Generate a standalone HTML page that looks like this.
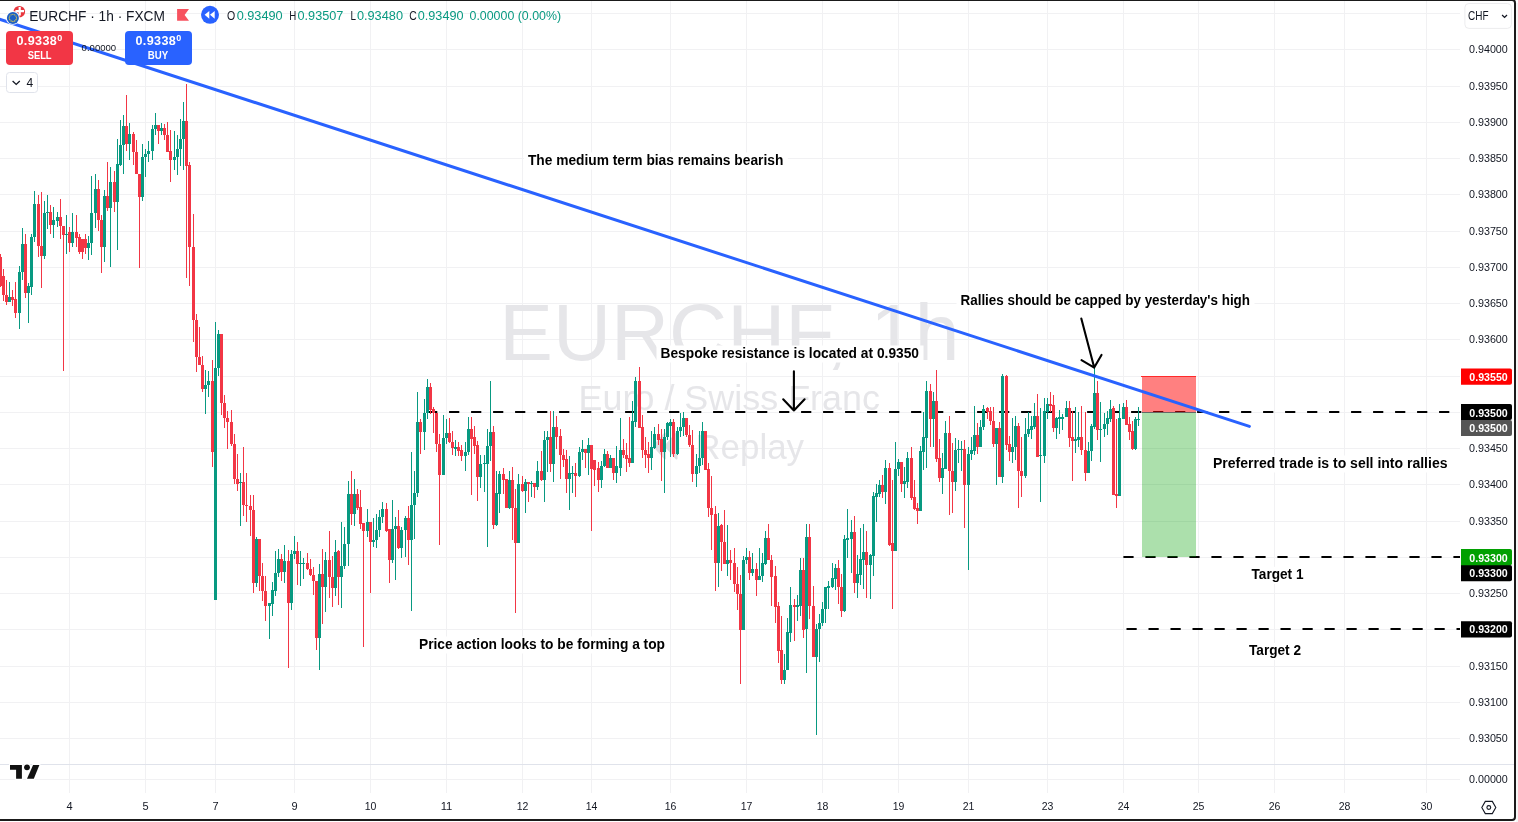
<!DOCTYPE html><html><head><meta charset="utf-8"><title>EURCHF 1h</title>
<style>html,body{margin:0;padding:0;background:#fff}body{width:1518px;height:822px;overflow:hidden;position:relative}svg{position:absolute;left:0;top:0;display:block;will-change:transform;opacity:0.999}text{font-family:"Liberation Sans", sans-serif}</style></head><body>
<svg width="1518" height="822" viewBox="0 0 1518 822">
<g shape-rendering="crispEdges" fill="#f1f1f3">
<rect x="0" y="13" width="1460" height="1"/>
<rect x="0" y="49" width="1460" height="1"/>
<rect x="0" y="86" width="1460" height="1"/>
<rect x="0" y="122" width="1460" height="1"/>
<rect x="0" y="158" width="1460" height="1"/>
<rect x="0" y="194" width="1460" height="1"/>
<rect x="0" y="231" width="1460" height="1"/>
<rect x="0" y="267" width="1460" height="1"/>
<rect x="0" y="303" width="1460" height="1"/>
<rect x="0" y="339" width="1460" height="1"/>
<rect x="0" y="376" width="1460" height="1"/>
<rect x="0" y="412" width="1460" height="1"/>
<rect x="0" y="448" width="1460" height="1"/>
<rect x="0" y="484" width="1460" height="1"/>
<rect x="0" y="521" width="1460" height="1"/>
<rect x="0" y="557" width="1460" height="1"/>
<rect x="0" y="593" width="1460" height="1"/>
<rect x="0" y="629" width="1460" height="1"/>
<rect x="0" y="666" width="1460" height="1"/>
<rect x="0" y="702" width="1460" height="1"/>
<rect x="0" y="738" width="1460" height="1"/>
<rect x="0" y="779" width="1460" height="1"/>
<rect x="69" y="1" width="1" height="792"/>
<rect x="145" y="1" width="1" height="792"/>
<rect x="215" y="1" width="1" height="792"/>
<rect x="294" y="1" width="1" height="792"/>
<rect x="370" y="1" width="1" height="792"/>
<rect x="446" y="1" width="1" height="792"/>
<rect x="522" y="1" width="1" height="792"/>
<rect x="591" y="1" width="1" height="792"/>
<rect x="670" y="1" width="1" height="792"/>
<rect x="746" y="1" width="1" height="792"/>
<rect x="822" y="1" width="1" height="792"/>
<rect x="898" y="1" width="1" height="792"/>
<rect x="968" y="1" width="1" height="792"/>
<rect x="1047" y="1" width="1" height="792"/>
<rect x="1123" y="1" width="1" height="792"/>
<rect x="1198" y="1" width="1" height="792"/>
<rect x="1274" y="1" width="1" height="792"/>
<rect x="1344" y="1" width="1" height="792"/>
<rect x="1426" y="1" width="1" height="792"/>
</g>
<g fill="#e6e6e9">
<text x="499.3" y="360" font-size="80" textLength="460.3" lengthAdjust="spacingAndGlyphs">EURCHF, 1h</text>
<text x="578.5" y="409.8" font-size="35.5" textLength="301.5" lengthAdjust="spacingAndGlyphs">Euro / Swiss Franc</text>
<text x="695.3" y="459.2" font-size="35.5" textLength="108.8" lengthAdjust="spacingAndGlyphs">Replay</text>
<path d="M665 433.5 L654 446 L665 458.5 Z M676.5 433.5 L665.5 446 L676.5 458.5 Z" fill="#dedee2" stroke="#dedee2" stroke-width="2" stroke-linejoin="round"/>
</g>
<line x1="428.7" y1="412.0" x2="1460.0" y2="412.0" stroke="#000" stroke-width="2" stroke-dasharray="10.2 11.8" stroke-dashoffset="1.6"/>
<line x1="1123.4" y1="557.0" x2="1460.0" y2="557.0" stroke="#000" stroke-width="2" stroke-dasharray="10.2 11.8" stroke-dashoffset="0.0"/>
<line x1="1126.5" y1="629.0" x2="1460.0" y2="629.0" stroke="#000" stroke-width="2" stroke-dasharray="10.2 11.8" stroke-dashoffset="0.0"/>
<rect x="1142" y="376" width="54" height="36" fill="rgb(255,0,0)" fill-opacity="0.5" shape-rendering="crispEdges"/>
<rect x="1142" y="413" width="54" height="144" fill="rgb(0,160,0)" fill-opacity="0.33" shape-rendering="crispEdges"/>
<rect x="1142" y="412" width="54" height="1" fill="#666" shape-rendering="crispEdges"/>
<rect x="1141" y="376" width="55" height="1" fill="#ff2a2a" shape-rendering="crispEdges"/>
<g shape-rendering="crispEdges">
<rect x="0" y="254" width="1" height="33" fill="#f23645"/>
<rect x="-1" y="257" width="3" height="29" fill="#f23645"/>
<rect x="3" y="269" width="1" height="32" fill="#f23645"/>
<rect x="2" y="276" width="3" height="19" fill="#f23645"/>
<rect x="6" y="280" width="1" height="25" fill="#f23645"/>
<rect x="5" y="295" width="3" height="7" fill="#f23645"/>
<rect x="9" y="282" width="1" height="20" fill="#089981"/>
<rect x="8" y="297" width="3" height="5" fill="#089981"/>
<rect x="12" y="290" width="1" height="16" fill="#f23645"/>
<rect x="11" y="297" width="3" height="3" fill="#f23645"/>
<rect x="15" y="282" width="1" height="36" fill="#f23645"/>
<rect x="14" y="299" width="3" height="14" fill="#f23645"/>
<rect x="19" y="266" width="1" height="63" fill="#089981"/>
<rect x="18" y="272" width="3" height="41" fill="#089981"/>
<rect x="22" y="228" width="1" height="52" fill="#089981"/>
<rect x="21" y="244" width="3" height="28" fill="#089981"/>
<rect x="25" y="234" width="1" height="64" fill="#f23645"/>
<rect x="24" y="244" width="3" height="49" fill="#f23645"/>
<rect x="28" y="283" width="1" height="40" fill="#089981"/>
<rect x="27" y="286" width="3" height="7" fill="#089981"/>
<rect x="31" y="234" width="1" height="61" fill="#089981"/>
<rect x="30" y="237" width="3" height="50" fill="#089981"/>
<rect x="34" y="191" width="1" height="51" fill="#089981"/>
<rect x="33" y="204" width="3" height="33" fill="#089981"/>
<rect x="38" y="195" width="1" height="62" fill="#f23645"/>
<rect x="37" y="204" width="3" height="42" fill="#f23645"/>
<rect x="41" y="192" width="1" height="96" fill="#f23645"/>
<rect x="40" y="246" width="3" height="10" fill="#f23645"/>
<rect x="44" y="201" width="1" height="58" fill="#089981"/>
<rect x="43" y="213" width="3" height="43" fill="#089981"/>
<rect x="47" y="195" width="1" height="34" fill="#089981"/>
<rect x="46" y="212" width="3" height="1" fill="#089981"/>
<rect x="50" y="205" width="1" height="29" fill="#f23645"/>
<rect x="49" y="212" width="3" height="13" fill="#f23645"/>
<rect x="53" y="207" width="1" height="31" fill="#089981"/>
<rect x="52" y="220" width="3" height="5" fill="#089981"/>
<rect x="57" y="212" width="1" height="15" fill="#089981"/>
<rect x="56" y="217" width="3" height="4" fill="#089981"/>
<rect x="60" y="199" width="1" height="40" fill="#f23645"/>
<rect x="59" y="217" width="3" height="9" fill="#f23645"/>
<rect x="63" y="226" width="1" height="145" fill="#f23645"/>
<rect x="62" y="226" width="3" height="9" fill="#f23645"/>
<rect x="66" y="215" width="1" height="39" fill="#089981"/>
<rect x="65" y="234" width="3" height="1" fill="#089981"/>
<rect x="69" y="227" width="1" height="25" fill="#f23645"/>
<rect x="68" y="232" width="3" height="11" fill="#f23645"/>
<rect x="72" y="213" width="1" height="34" fill="#089981"/>
<rect x="71" y="232" width="3" height="11" fill="#089981"/>
<rect x="76" y="215" width="1" height="32" fill="#f23645"/>
<rect x="75" y="232" width="3" height="6" fill="#f23645"/>
<rect x="79" y="234" width="1" height="20" fill="#f23645"/>
<rect x="78" y="237" width="3" height="15" fill="#f23645"/>
<rect x="82" y="239" width="1" height="20" fill="#f23645"/>
<rect x="81" y="239" width="3" height="13" fill="#f23645"/>
<rect x="85" y="234" width="1" height="20" fill="#f23645"/>
<rect x="84" y="239" width="3" height="9" fill="#f23645"/>
<rect x="88" y="236" width="1" height="24" fill="#089981"/>
<rect x="87" y="243" width="3" height="5" fill="#089981"/>
<rect x="91" y="176" width="1" height="79" fill="#089981"/>
<rect x="90" y="213" width="3" height="30" fill="#089981"/>
<rect x="95" y="174" width="1" height="54" fill="#089981"/>
<rect x="94" y="189" width="3" height="24" fill="#089981"/>
<rect x="98" y="180" width="1" height="51" fill="#f23645"/>
<rect x="97" y="189" width="3" height="31" fill="#f23645"/>
<rect x="101" y="215" width="1" height="58" fill="#f23645"/>
<rect x="100" y="220" width="3" height="27" fill="#f23645"/>
<rect x="104" y="190" width="1" height="72" fill="#089981"/>
<rect x="103" y="196" width="3" height="51" fill="#089981"/>
<rect x="107" y="162" width="1" height="49" fill="#f23645"/>
<rect x="106" y="196" width="3" height="12" fill="#f23645"/>
<rect x="110" y="167" width="1" height="100" fill="#089981"/>
<rect x="109" y="182" width="3" height="26" fill="#089981"/>
<rect x="114" y="171" width="1" height="41" fill="#f23645"/>
<rect x="113" y="182" width="3" height="20" fill="#f23645"/>
<rect x="117" y="139" width="1" height="111" fill="#089981"/>
<rect x="116" y="164" width="3" height="38" fill="#089981"/>
<rect x="120" y="120" width="1" height="46" fill="#089981"/>
<rect x="119" y="145" width="3" height="20" fill="#089981"/>
<rect x="123" y="115" width="1" height="59" fill="#089981"/>
<rect x="122" y="126" width="3" height="19" fill="#089981"/>
<rect x="126" y="95" width="1" height="56" fill="#f23645"/>
<rect x="125" y="126" width="3" height="18" fill="#f23645"/>
<rect x="129" y="123" width="1" height="37" fill="#089981"/>
<rect x="128" y="134" width="3" height="10" fill="#089981"/>
<rect x="133" y="132" width="1" height="33" fill="#f23645"/>
<rect x="132" y="134" width="3" height="18" fill="#f23645"/>
<rect x="136" y="140" width="1" height="34" fill="#f23645"/>
<rect x="135" y="152" width="3" height="22" fill="#f23645"/>
<rect x="139" y="174" width="1" height="94" fill="#f23645"/>
<rect x="138" y="174" width="3" height="23" fill="#f23645"/>
<rect x="142" y="144" width="1" height="57" fill="#089981"/>
<rect x="141" y="157" width="3" height="40" fill="#089981"/>
<rect x="145" y="149" width="1" height="28" fill="#089981"/>
<rect x="144" y="154" width="3" height="3" fill="#089981"/>
<rect x="148" y="141" width="1" height="21" fill="#089981"/>
<rect x="147" y="151" width="3" height="3" fill="#089981"/>
<rect x="152" y="125" width="1" height="35" fill="#089981"/>
<rect x="151" y="129" width="3" height="22" fill="#089981"/>
<rect x="155" y="113" width="1" height="22" fill="#089981"/>
<rect x="154" y="125" width="3" height="4" fill="#089981"/>
<rect x="158" y="125" width="1" height="19" fill="#f23645"/>
<rect x="157" y="125" width="3" height="6" fill="#f23645"/>
<rect x="161" y="123" width="1" height="12" fill="#089981"/>
<rect x="160" y="128" width="3" height="3" fill="#089981"/>
<rect x="164" y="124" width="1" height="16" fill="#f23645"/>
<rect x="163" y="128" width="3" height="7" fill="#f23645"/>
<rect x="167" y="122" width="1" height="30" fill="#f23645"/>
<rect x="166" y="135" width="3" height="17" fill="#f23645"/>
<rect x="170" y="130" width="1" height="52" fill="#f23645"/>
<rect x="169" y="151" width="3" height="9" fill="#f23645"/>
<rect x="174" y="131" width="1" height="39" fill="#089981"/>
<rect x="173" y="157" width="3" height="3" fill="#089981"/>
<rect x="177" y="135" width="1" height="40" fill="#089981"/>
<rect x="176" y="149" width="3" height="8" fill="#089981"/>
<rect x="180" y="119" width="1" height="47" fill="#089981"/>
<rect x="179" y="139" width="3" height="10" fill="#089981"/>
<rect x="183" y="102" width="1" height="68" fill="#089981"/>
<rect x="182" y="121" width="3" height="18" fill="#089981"/>
<rect x="186" y="84" width="1" height="194" fill="#f23645"/>
<rect x="185" y="121" width="3" height="45" fill="#f23645"/>
<rect x="189" y="162" width="1" height="124" fill="#f23645"/>
<rect x="188" y="165" width="3" height="82" fill="#f23645"/>
<rect x="193" y="214" width="1" height="128" fill="#f23645"/>
<rect x="192" y="247" width="3" height="73" fill="#f23645"/>
<rect x="196" y="314" width="1" height="58" fill="#f23645"/>
<rect x="195" y="320" width="3" height="37" fill="#f23645"/>
<rect x="199" y="327" width="1" height="38" fill="#f23645"/>
<rect x="198" y="357" width="3" height="8" fill="#f23645"/>
<rect x="202" y="356" width="1" height="36" fill="#f23645"/>
<rect x="201" y="365" width="3" height="24" fill="#f23645"/>
<rect x="205" y="370" width="1" height="44" fill="#089981"/>
<rect x="204" y="385" width="3" height="4" fill="#089981"/>
<rect x="208" y="371" width="1" height="26" fill="#089981"/>
<rect x="207" y="381" width="3" height="4" fill="#089981"/>
<rect x="212" y="360" width="1" height="107" fill="#f23645"/>
<rect x="211" y="381" width="3" height="71" fill="#f23645"/>
<rect x="215" y="322" width="1" height="278" fill="#089981"/>
<rect x="214" y="368" width="3" height="232" fill="#089981"/>
<rect x="218" y="330" width="1" height="46" fill="#089981"/>
<rect x="217" y="334" width="3" height="34" fill="#089981"/>
<rect x="221" y="334" width="1" height="81" fill="#f23645"/>
<rect x="220" y="334" width="3" height="69" fill="#f23645"/>
<rect x="224" y="395" width="1" height="33" fill="#f23645"/>
<rect x="223" y="403" width="3" height="15" fill="#f23645"/>
<rect x="227" y="411" width="1" height="38" fill="#f23645"/>
<rect x="226" y="418" width="3" height="4" fill="#f23645"/>
<rect x="231" y="410" width="1" height="36" fill="#f23645"/>
<rect x="230" y="422" width="3" height="22" fill="#f23645"/>
<rect x="234" y="434" width="1" height="50" fill="#f23645"/>
<rect x="233" y="444" width="3" height="35" fill="#f23645"/>
<rect x="237" y="454" width="1" height="37" fill="#f23645"/>
<rect x="236" y="479" width="3" height="5" fill="#f23645"/>
<rect x="240" y="473" width="1" height="53" fill="#089981"/>
<rect x="239" y="482" width="3" height="1" fill="#089981"/>
<rect x="243" y="447" width="1" height="69" fill="#f23645"/>
<rect x="242" y="482" width="3" height="23" fill="#f23645"/>
<rect x="246" y="473" width="1" height="49" fill="#f23645"/>
<rect x="245" y="505" width="3" height="1" fill="#f23645"/>
<rect x="250" y="495" width="1" height="41" fill="#f23645"/>
<rect x="249" y="506" width="3" height="4" fill="#f23645"/>
<rect x="253" y="495" width="1" height="98" fill="#f23645"/>
<rect x="252" y="510" width="3" height="73" fill="#f23645"/>
<rect x="256" y="537" width="1" height="50" fill="#089981"/>
<rect x="255" y="539" width="3" height="44" fill="#089981"/>
<rect x="259" y="539" width="1" height="52" fill="#f23645"/>
<rect x="258" y="539" width="3" height="37" fill="#f23645"/>
<rect x="262" y="563" width="1" height="38" fill="#f23645"/>
<rect x="261" y="576" width="3" height="15" fill="#f23645"/>
<rect x="265" y="576" width="1" height="45" fill="#f23645"/>
<rect x="264" y="591" width="3" height="15" fill="#f23645"/>
<rect x="269" y="603" width="1" height="36" fill="#089981"/>
<rect x="268" y="603" width="3" height="3" fill="#089981"/>
<rect x="272" y="582" width="1" height="34" fill="#089981"/>
<rect x="271" y="590" width="3" height="14" fill="#089981"/>
<rect x="275" y="551" width="1" height="45" fill="#089981"/>
<rect x="274" y="573" width="3" height="18" fill="#089981"/>
<rect x="278" y="549" width="1" height="28" fill="#089981"/>
<rect x="277" y="559" width="3" height="14" fill="#089981"/>
<rect x="281" y="554" width="1" height="27" fill="#f23645"/>
<rect x="280" y="559" width="3" height="13" fill="#f23645"/>
<rect x="284" y="545" width="1" height="38" fill="#089981"/>
<rect x="283" y="561" width="3" height="11" fill="#089981"/>
<rect x="288" y="550" width="1" height="118" fill="#f23645"/>
<rect x="287" y="561" width="3" height="42" fill="#f23645"/>
<rect x="291" y="550" width="1" height="60" fill="#089981"/>
<rect x="290" y="554" width="3" height="49" fill="#089981"/>
<rect x="294" y="536" width="1" height="23" fill="#089981"/>
<rect x="293" y="551" width="3" height="3" fill="#089981"/>
<rect x="297" y="542" width="1" height="43" fill="#f23645"/>
<rect x="296" y="551" width="3" height="13" fill="#f23645"/>
<rect x="300" y="551" width="1" height="35" fill="#089981"/>
<rect x="299" y="563" width="3" height="1" fill="#089981"/>
<rect x="303" y="558" width="1" height="21" fill="#089981"/>
<rect x="302" y="563" width="3" height="1" fill="#089981"/>
<rect x="307" y="553" width="1" height="17" fill="#f23645"/>
<rect x="306" y="563" width="3" height="6" fill="#f23645"/>
<rect x="310" y="559" width="1" height="17" fill="#f23645"/>
<rect x="309" y="569" width="3" height="6" fill="#f23645"/>
<rect x="313" y="567" width="1" height="28" fill="#f23645"/>
<rect x="312" y="575" width="3" height="6" fill="#f23645"/>
<rect x="316" y="581" width="1" height="69" fill="#f23645"/>
<rect x="315" y="581" width="3" height="57" fill="#f23645"/>
<rect x="319" y="564" width="1" height="106" fill="#089981"/>
<rect x="318" y="574" width="3" height="64" fill="#089981"/>
<rect x="322" y="549" width="1" height="75" fill="#f23645"/>
<rect x="321" y="574" width="3" height="13" fill="#f23645"/>
<rect x="325" y="552" width="1" height="60" fill="#089981"/>
<rect x="324" y="560" width="3" height="27" fill="#089981"/>
<rect x="329" y="531" width="1" height="67" fill="#f23645"/>
<rect x="328" y="560" width="3" height="17" fill="#f23645"/>
<rect x="332" y="556" width="1" height="51" fill="#f23645"/>
<rect x="331" y="577" width="3" height="11" fill="#f23645"/>
<rect x="335" y="540" width="1" height="56" fill="#089981"/>
<rect x="334" y="552" width="3" height="36" fill="#089981"/>
<rect x="338" y="550" width="1" height="55" fill="#f23645"/>
<rect x="337" y="551" width="3" height="26" fill="#f23645"/>
<rect x="341" y="522" width="1" height="86" fill="#089981"/>
<rect x="340" y="566" width="3" height="11" fill="#089981"/>
<rect x="344" y="527" width="1" height="42" fill="#089981"/>
<rect x="343" y="544" width="3" height="22" fill="#089981"/>
<rect x="348" y="481" width="1" height="85" fill="#089981"/>
<rect x="347" y="494" width="3" height="50" fill="#089981"/>
<rect x="351" y="471" width="1" height="54" fill="#f23645"/>
<rect x="350" y="494" width="3" height="20" fill="#f23645"/>
<rect x="354" y="479" width="1" height="47" fill="#089981"/>
<rect x="353" y="494" width="3" height="20" fill="#089981"/>
<rect x="357" y="489" width="1" height="21" fill="#f23645"/>
<rect x="356" y="494" width="3" height="14" fill="#f23645"/>
<rect x="360" y="490" width="1" height="39" fill="#f23645"/>
<rect x="359" y="507" width="3" height="17" fill="#f23645"/>
<rect x="363" y="523" width="1" height="124" fill="#f23645"/>
<rect x="362" y="523" width="3" height="8" fill="#f23645"/>
<rect x="367" y="509" width="1" height="28" fill="#089981"/>
<rect x="366" y="522" width="3" height="9" fill="#089981"/>
<rect x="370" y="522" width="1" height="71" fill="#f23645"/>
<rect x="369" y="522" width="3" height="20" fill="#f23645"/>
<rect x="373" y="518" width="1" height="29" fill="#089981"/>
<rect x="372" y="540" width="3" height="2" fill="#089981"/>
<rect x="376" y="514" width="1" height="34" fill="#089981"/>
<rect x="375" y="530" width="3" height="10" fill="#089981"/>
<rect x="379" y="510" width="1" height="27" fill="#089981"/>
<rect x="378" y="517" width="3" height="13" fill="#089981"/>
<rect x="382" y="502" width="1" height="21" fill="#089981"/>
<rect x="381" y="509" width="3" height="8" fill="#089981"/>
<rect x="386" y="503" width="1" height="29" fill="#f23645"/>
<rect x="385" y="509" width="3" height="22" fill="#f23645"/>
<rect x="389" y="529" width="1" height="54" fill="#f23645"/>
<rect x="388" y="529" width="3" height="31" fill="#f23645"/>
<rect x="392" y="500" width="1" height="63" fill="#089981"/>
<rect x="391" y="529" width="3" height="31" fill="#089981"/>
<rect x="395" y="517" width="1" height="63" fill="#089981"/>
<rect x="394" y="526" width="3" height="3" fill="#089981"/>
<rect x="398" y="510" width="1" height="39" fill="#f23645"/>
<rect x="397" y="526" width="3" height="22" fill="#f23645"/>
<rect x="401" y="527" width="1" height="31" fill="#089981"/>
<rect x="400" y="530" width="3" height="18" fill="#089981"/>
<rect x="405" y="516" width="1" height="41" fill="#089981"/>
<rect x="404" y="518" width="3" height="12" fill="#089981"/>
<rect x="408" y="506" width="1" height="59" fill="#f23645"/>
<rect x="407" y="518" width="3" height="22" fill="#f23645"/>
<rect x="411" y="452" width="1" height="159" fill="#089981"/>
<rect x="410" y="505" width="3" height="35" fill="#089981"/>
<rect x="414" y="471" width="1" height="68" fill="#089981"/>
<rect x="413" y="493" width="3" height="12" fill="#089981"/>
<rect x="417" y="392" width="1" height="105" fill="#089981"/>
<rect x="416" y="422" width="3" height="71" fill="#089981"/>
<rect x="420" y="419" width="1" height="35" fill="#f23645"/>
<rect x="419" y="422" width="3" height="10" fill="#f23645"/>
<rect x="424" y="399" width="1" height="51" fill="#089981"/>
<rect x="423" y="413" width="3" height="19" fill="#089981"/>
<rect x="427" y="379" width="1" height="40" fill="#089981"/>
<rect x="426" y="387" width="3" height="26" fill="#089981"/>
<rect x="430" y="383" width="1" height="31" fill="#f23645"/>
<rect x="429" y="387" width="3" height="23" fill="#f23645"/>
<rect x="433" y="407" width="1" height="26" fill="#f23645"/>
<rect x="432" y="409" width="3" height="4" fill="#f23645"/>
<rect x="436" y="413" width="1" height="39" fill="#f23645"/>
<rect x="435" y="413" width="3" height="31" fill="#f23645"/>
<rect x="439" y="434" width="1" height="111" fill="#f23645"/>
<rect x="438" y="444" width="3" height="31" fill="#f23645"/>
<rect x="443" y="415" width="1" height="60" fill="#089981"/>
<rect x="442" y="438" width="3" height="37" fill="#089981"/>
<rect x="446" y="419" width="1" height="25" fill="#089981"/>
<rect x="445" y="433" width="3" height="5" fill="#089981"/>
<rect x="449" y="418" width="1" height="25" fill="#f23645"/>
<rect x="448" y="433" width="3" height="9" fill="#f23645"/>
<rect x="452" y="431" width="1" height="24" fill="#f23645"/>
<rect x="451" y="442" width="3" height="6" fill="#f23645"/>
<rect x="455" y="440" width="1" height="16" fill="#089981"/>
<rect x="454" y="447" width="3" height="2" fill="#089981"/>
<rect x="458" y="442" width="1" height="14" fill="#f23645"/>
<rect x="457" y="447" width="3" height="4" fill="#f23645"/>
<rect x="461" y="445" width="1" height="16" fill="#f23645"/>
<rect x="460" y="450" width="3" height="6" fill="#f23645"/>
<rect x="465" y="442" width="1" height="29" fill="#089981"/>
<rect x="464" y="452" width="3" height="4" fill="#089981"/>
<rect x="468" y="417" width="1" height="38" fill="#089981"/>
<rect x="467" y="429" width="3" height="23" fill="#089981"/>
<rect x="471" y="417" width="1" height="78" fill="#f23645"/>
<rect x="470" y="429" width="3" height="10" fill="#f23645"/>
<rect x="474" y="426" width="1" height="28" fill="#f23645"/>
<rect x="473" y="437" width="3" height="9" fill="#f23645"/>
<rect x="477" y="441" width="1" height="60" fill="#f23645"/>
<rect x="476" y="445" width="3" height="32" fill="#f23645"/>
<rect x="480" y="455" width="1" height="33" fill="#089981"/>
<rect x="479" y="464" width="3" height="13" fill="#089981"/>
<rect x="484" y="455" width="1" height="37" fill="#089981"/>
<rect x="483" y="463" width="3" height="1" fill="#089981"/>
<rect x="487" y="429" width="1" height="118" fill="#089981"/>
<rect x="486" y="446" width="3" height="18" fill="#089981"/>
<rect x="490" y="381" width="1" height="80" fill="#089981"/>
<rect x="489" y="432" width="3" height="14" fill="#089981"/>
<rect x="493" y="426" width="1" height="103" fill="#f23645"/>
<rect x="492" y="432" width="3" height="93" fill="#f23645"/>
<rect x="496" y="471" width="1" height="55" fill="#089981"/>
<rect x="495" y="493" width="3" height="32" fill="#089981"/>
<rect x="499" y="471" width="1" height="42" fill="#089981"/>
<rect x="498" y="474" width="3" height="20" fill="#089981"/>
<rect x="503" y="468" width="1" height="26" fill="#f23645"/>
<rect x="502" y="474" width="3" height="6" fill="#f23645"/>
<rect x="506" y="479" width="1" height="29" fill="#f23645"/>
<rect x="505" y="479" width="3" height="29" fill="#f23645"/>
<rect x="509" y="471" width="1" height="38" fill="#089981"/>
<rect x="508" y="480" width="3" height="28" fill="#089981"/>
<rect x="512" y="467" width="1" height="73" fill="#f23645"/>
<rect x="511" y="480" width="3" height="28" fill="#f23645"/>
<rect x="515" y="489" width="1" height="124" fill="#f23645"/>
<rect x="514" y="508" width="3" height="35" fill="#f23645"/>
<rect x="518" y="474" width="1" height="69" fill="#089981"/>
<rect x="517" y="484" width="3" height="59" fill="#089981"/>
<rect x="522" y="476" width="1" height="16" fill="#f23645"/>
<rect x="521" y="484" width="3" height="7" fill="#f23645"/>
<rect x="525" y="479" width="1" height="34" fill="#089981"/>
<rect x="524" y="482" width="3" height="9" fill="#089981"/>
<rect x="528" y="482" width="1" height="20" fill="#f23645"/>
<rect x="527" y="482" width="3" height="2" fill="#f23645"/>
<rect x="531" y="481" width="1" height="16" fill="#089981"/>
<rect x="530" y="483" width="3" height="1" fill="#089981"/>
<rect x="534" y="483" width="1" height="15" fill="#f23645"/>
<rect x="533" y="483" width="3" height="4" fill="#f23645"/>
<rect x="537" y="461" width="1" height="29" fill="#089981"/>
<rect x="536" y="471" width="3" height="16" fill="#089981"/>
<rect x="541" y="451" width="1" height="30" fill="#f23645"/>
<rect x="540" y="471" width="3" height="9" fill="#f23645"/>
<rect x="544" y="431" width="1" height="71" fill="#089981"/>
<rect x="543" y="440" width="3" height="40" fill="#089981"/>
<rect x="547" y="431" width="1" height="41" fill="#089981"/>
<rect x="546" y="437" width="3" height="3" fill="#089981"/>
<rect x="550" y="411" width="1" height="61" fill="#f23645"/>
<rect x="549" y="437" width="3" height="27" fill="#f23645"/>
<rect x="553" y="411" width="1" height="71" fill="#089981"/>
<rect x="552" y="427" width="3" height="37" fill="#089981"/>
<rect x="556" y="416" width="1" height="33" fill="#f23645"/>
<rect x="555" y="427" width="3" height="10" fill="#f23645"/>
<rect x="560" y="429" width="1" height="50" fill="#f23645"/>
<rect x="559" y="436" width="3" height="19" fill="#f23645"/>
<rect x="563" y="449" width="1" height="18" fill="#f23645"/>
<rect x="562" y="455" width="3" height="5" fill="#f23645"/>
<rect x="566" y="450" width="1" height="43" fill="#f23645"/>
<rect x="565" y="459" width="3" height="20" fill="#f23645"/>
<rect x="569" y="456" width="1" height="54" fill="#089981"/>
<rect x="568" y="473" width="3" height="6" fill="#089981"/>
<rect x="572" y="466" width="1" height="27" fill="#089981"/>
<rect x="571" y="473" width="3" height="1" fill="#089981"/>
<rect x="575" y="463" width="1" height="34" fill="#f23645"/>
<rect x="574" y="473" width="3" height="3" fill="#f23645"/>
<rect x="579" y="447" width="1" height="30" fill="#089981"/>
<rect x="578" y="452" width="3" height="24" fill="#089981"/>
<rect x="582" y="440" width="1" height="20" fill="#089981"/>
<rect x="581" y="449" width="3" height="3" fill="#089981"/>
<rect x="585" y="449" width="1" height="19" fill="#f23645"/>
<rect x="584" y="449" width="3" height="4" fill="#f23645"/>
<rect x="588" y="438" width="1" height="37" fill="#089981"/>
<rect x="587" y="445" width="3" height="8" fill="#089981"/>
<rect x="591" y="445" width="1" height="86" fill="#f23645"/>
<rect x="590" y="445" width="3" height="24" fill="#f23645"/>
<rect x="594" y="460" width="1" height="26" fill="#f23645"/>
<rect x="593" y="460" width="3" height="10" fill="#f23645"/>
<rect x="598" y="462" width="1" height="30" fill="#f23645"/>
<rect x="597" y="468" width="3" height="12" fill="#f23645"/>
<rect x="601" y="461" width="1" height="27" fill="#089981"/>
<rect x="600" y="466" width="3" height="14" fill="#089981"/>
<rect x="604" y="449" width="1" height="18" fill="#089981"/>
<rect x="603" y="454" width="3" height="12" fill="#089981"/>
<rect x="607" y="451" width="1" height="17" fill="#f23645"/>
<rect x="606" y="454" width="3" height="14" fill="#f23645"/>
<rect x="610" y="455" width="1" height="13" fill="#089981"/>
<rect x="609" y="458" width="3" height="10" fill="#089981"/>
<rect x="613" y="458" width="1" height="22" fill="#f23645"/>
<rect x="612" y="458" width="3" height="15" fill="#f23645"/>
<rect x="616" y="446" width="1" height="37" fill="#089981"/>
<rect x="615" y="466" width="3" height="7" fill="#089981"/>
<rect x="620" y="418" width="1" height="58" fill="#089981"/>
<rect x="619" y="450" width="3" height="18" fill="#089981"/>
<rect x="623" y="439" width="1" height="19" fill="#f23645"/>
<rect x="622" y="450" width="3" height="5" fill="#f23645"/>
<rect x="626" y="443" width="1" height="29" fill="#f23645"/>
<rect x="625" y="455" width="3" height="4" fill="#f23645"/>
<rect x="629" y="417" width="1" height="50" fill="#f23645"/>
<rect x="628" y="458" width="3" height="5" fill="#f23645"/>
<rect x="632" y="401" width="1" height="62" fill="#089981"/>
<rect x="631" y="421" width="3" height="42" fill="#089981"/>
<rect x="635" y="377" width="1" height="50" fill="#089981"/>
<rect x="634" y="381" width="3" height="41" fill="#089981"/>
<rect x="639" y="367" width="1" height="61" fill="#f23645"/>
<rect x="638" y="381" width="3" height="47" fill="#f23645"/>
<rect x="642" y="415" width="1" height="43" fill="#f23645"/>
<rect x="641" y="427" width="3" height="23" fill="#f23645"/>
<rect x="645" y="437" width="1" height="31" fill="#f23645"/>
<rect x="644" y="450" width="3" height="5" fill="#f23645"/>
<rect x="648" y="442" width="1" height="31" fill="#f23645"/>
<rect x="647" y="454" width="3" height="4" fill="#f23645"/>
<rect x="651" y="431" width="1" height="39" fill="#089981"/>
<rect x="650" y="447" width="3" height="11" fill="#089981"/>
<rect x="654" y="427" width="1" height="22" fill="#089981"/>
<rect x="653" y="434" width="3" height="14" fill="#089981"/>
<rect x="658" y="424" width="1" height="21" fill="#f23645"/>
<rect x="657" y="434" width="3" height="6" fill="#f23645"/>
<rect x="661" y="429" width="1" height="52" fill="#f23645"/>
<rect x="660" y="439" width="3" height="13" fill="#f23645"/>
<rect x="664" y="429" width="1" height="64" fill="#089981"/>
<rect x="663" y="437" width="3" height="15" fill="#089981"/>
<rect x="667" y="422" width="1" height="18" fill="#089981"/>
<rect x="666" y="423" width="3" height="14" fill="#089981"/>
<rect x="670" y="419" width="1" height="38" fill="#089981"/>
<rect x="669" y="422" width="3" height="4" fill="#089981"/>
<rect x="673" y="419" width="1" height="38" fill="#f23645"/>
<rect x="672" y="422" width="3" height="32" fill="#f23645"/>
<rect x="677" y="427" width="1" height="28" fill="#089981"/>
<rect x="676" y="431" width="3" height="23" fill="#089981"/>
<rect x="680" y="413" width="1" height="24" fill="#089981"/>
<rect x="679" y="427" width="3" height="4" fill="#089981"/>
<rect x="683" y="412" width="1" height="24" fill="#089981"/>
<rect x="682" y="418" width="3" height="9" fill="#089981"/>
<rect x="686" y="418" width="1" height="19" fill="#f23645"/>
<rect x="685" y="418" width="3" height="17" fill="#f23645"/>
<rect x="689" y="425" width="1" height="22" fill="#f23645"/>
<rect x="688" y="435" width="3" height="10" fill="#f23645"/>
<rect x="692" y="430" width="1" height="52" fill="#f23645"/>
<rect x="691" y="445" width="3" height="29" fill="#f23645"/>
<rect x="696" y="454" width="1" height="33" fill="#089981"/>
<rect x="695" y="466" width="3" height="8" fill="#089981"/>
<rect x="699" y="431" width="1" height="42" fill="#089981"/>
<rect x="698" y="458" width="3" height="8" fill="#089981"/>
<rect x="702" y="422" width="1" height="43" fill="#089981"/>
<rect x="701" y="431" width="3" height="27" fill="#089981"/>
<rect x="705" y="431" width="1" height="39" fill="#f23645"/>
<rect x="704" y="431" width="3" height="39" fill="#f23645"/>
<rect x="708" y="463" width="1" height="54" fill="#f23645"/>
<rect x="707" y="469" width="3" height="39" fill="#f23645"/>
<rect x="711" y="476" width="1" height="74" fill="#f23645"/>
<rect x="710" y="508" width="3" height="7" fill="#f23645"/>
<rect x="715" y="506" width="1" height="85" fill="#f23645"/>
<rect x="714" y="514" width="3" height="49" fill="#f23645"/>
<rect x="718" y="513" width="1" height="74" fill="#089981"/>
<rect x="717" y="526" width="3" height="37" fill="#089981"/>
<rect x="721" y="524" width="1" height="47" fill="#f23645"/>
<rect x="720" y="525" width="3" height="17" fill="#f23645"/>
<rect x="724" y="510" width="1" height="54" fill="#f23645"/>
<rect x="723" y="542" width="3" height="22" fill="#f23645"/>
<rect x="727" y="525" width="1" height="51" fill="#089981"/>
<rect x="726" y="560" width="3" height="4" fill="#089981"/>
<rect x="730" y="550" width="1" height="30" fill="#f23645"/>
<rect x="729" y="560" width="3" height="3" fill="#f23645"/>
<rect x="734" y="548" width="1" height="44" fill="#f23645"/>
<rect x="733" y="563" width="3" height="21" fill="#f23645"/>
<rect x="737" y="567" width="1" height="43" fill="#f23645"/>
<rect x="736" y="584" width="3" height="10" fill="#f23645"/>
<rect x="740" y="575" width="1" height="109" fill="#f23645"/>
<rect x="739" y="594" width="3" height="36" fill="#f23645"/>
<rect x="743" y="556" width="1" height="74" fill="#089981"/>
<rect x="742" y="560" width="3" height="70" fill="#089981"/>
<rect x="746" y="548" width="1" height="16" fill="#089981"/>
<rect x="745" y="557" width="3" height="3" fill="#089981"/>
<rect x="749" y="551" width="1" height="29" fill="#f23645"/>
<rect x="748" y="557" width="3" height="16" fill="#f23645"/>
<rect x="752" y="553" width="1" height="23" fill="#089981"/>
<rect x="751" y="569" width="3" height="4" fill="#089981"/>
<rect x="756" y="563" width="1" height="33" fill="#f23645"/>
<rect x="755" y="569" width="3" height="11" fill="#f23645"/>
<rect x="759" y="548" width="1" height="32" fill="#089981"/>
<rect x="758" y="576" width="3" height="4" fill="#089981"/>
<rect x="762" y="553" width="1" height="29" fill="#089981"/>
<rect x="761" y="563" width="3" height="13" fill="#089981"/>
<rect x="765" y="531" width="1" height="34" fill="#089981"/>
<rect x="764" y="538" width="3" height="26" fill="#089981"/>
<rect x="768" y="524" width="1" height="36" fill="#f23645"/>
<rect x="767" y="538" width="3" height="22" fill="#f23645"/>
<rect x="771" y="555" width="1" height="51" fill="#f23645"/>
<rect x="770" y="560" width="3" height="17" fill="#f23645"/>
<rect x="775" y="566" width="1" height="57" fill="#f23645"/>
<rect x="774" y="576" width="3" height="31" fill="#f23645"/>
<rect x="778" y="602" width="1" height="61" fill="#f23645"/>
<rect x="777" y="606" width="3" height="45" fill="#f23645"/>
<rect x="781" y="616" width="1" height="68" fill="#f23645"/>
<rect x="780" y="650" width="3" height="30" fill="#f23645"/>
<rect x="784" y="654" width="1" height="30" fill="#089981"/>
<rect x="783" y="670" width="3" height="10" fill="#089981"/>
<rect x="787" y="618" width="1" height="52" fill="#089981"/>
<rect x="786" y="632" width="3" height="38" fill="#089981"/>
<rect x="790" y="587" width="1" height="55" fill="#089981"/>
<rect x="789" y="605" width="3" height="28" fill="#089981"/>
<rect x="794" y="599" width="1" height="42" fill="#f23645"/>
<rect x="793" y="605" width="3" height="2" fill="#f23645"/>
<rect x="797" y="595" width="1" height="26" fill="#089981"/>
<rect x="796" y="605" width="3" height="2" fill="#089981"/>
<rect x="800" y="558" width="1" height="58" fill="#089981"/>
<rect x="799" y="570" width="3" height="36" fill="#089981"/>
<rect x="803" y="558" width="1" height="80" fill="#f23645"/>
<rect x="802" y="570" width="3" height="60" fill="#f23645"/>
<rect x="806" y="524" width="1" height="149" fill="#089981"/>
<rect x="805" y="537" width="3" height="92" fill="#089981"/>
<rect x="809" y="524" width="1" height="95" fill="#f23645"/>
<rect x="808" y="537" width="3" height="69" fill="#f23645"/>
<rect x="813" y="586" width="1" height="71" fill="#f23645"/>
<rect x="812" y="606" width="3" height="51" fill="#f23645"/>
<rect x="816" y="624" width="1" height="111" fill="#089981"/>
<rect x="815" y="629" width="3" height="28" fill="#089981"/>
<rect x="819" y="614" width="1" height="48" fill="#089981"/>
<rect x="818" y="623" width="3" height="6" fill="#089981"/>
<rect x="822" y="602" width="1" height="24" fill="#089981"/>
<rect x="821" y="609" width="3" height="14" fill="#089981"/>
<rect x="825" y="587" width="1" height="36" fill="#089981"/>
<rect x="824" y="587" width="3" height="22" fill="#089981"/>
<rect x="828" y="581" width="1" height="28" fill="#089981"/>
<rect x="827" y="586" width="3" height="2" fill="#089981"/>
<rect x="832" y="563" width="1" height="25" fill="#089981"/>
<rect x="831" y="578" width="3" height="9" fill="#089981"/>
<rect x="835" y="564" width="1" height="26" fill="#089981"/>
<rect x="834" y="568" width="3" height="11" fill="#089981"/>
<rect x="838" y="560" width="1" height="44" fill="#f23645"/>
<rect x="837" y="568" width="3" height="19" fill="#f23645"/>
<rect x="841" y="574" width="1" height="43" fill="#f23645"/>
<rect x="840" y="587" width="3" height="24" fill="#f23645"/>
<rect x="844" y="535" width="1" height="77" fill="#089981"/>
<rect x="843" y="539" width="3" height="72" fill="#089981"/>
<rect x="847" y="509" width="1" height="49" fill="#089981"/>
<rect x="846" y="538" width="3" height="2" fill="#089981"/>
<rect x="851" y="520" width="1" height="53" fill="#089981"/>
<rect x="850" y="532" width="3" height="7" fill="#089981"/>
<rect x="854" y="516" width="1" height="77" fill="#f23645"/>
<rect x="853" y="532" width="3" height="51" fill="#f23645"/>
<rect x="857" y="555" width="1" height="43" fill="#089981"/>
<rect x="856" y="574" width="3" height="9" fill="#089981"/>
<rect x="860" y="528" width="1" height="57" fill="#089981"/>
<rect x="859" y="559" width="3" height="16" fill="#089981"/>
<rect x="863" y="524" width="1" height="65" fill="#089981"/>
<rect x="862" y="552" width="3" height="8" fill="#089981"/>
<rect x="866" y="531" width="1" height="67" fill="#f23645"/>
<rect x="865" y="552" width="3" height="13" fill="#f23645"/>
<rect x="870" y="554" width="1" height="45" fill="#089981"/>
<rect x="869" y="555" width="3" height="10" fill="#089981"/>
<rect x="873" y="492" width="1" height="84" fill="#089981"/>
<rect x="872" y="496" width="3" height="60" fill="#089981"/>
<rect x="876" y="484" width="1" height="38" fill="#089981"/>
<rect x="875" y="493" width="3" height="4" fill="#089981"/>
<rect x="879" y="480" width="1" height="17" fill="#089981"/>
<rect x="878" y="485" width="3" height="9" fill="#089981"/>
<rect x="882" y="475" width="1" height="23" fill="#f23645"/>
<rect x="881" y="485" width="3" height="7" fill="#f23645"/>
<rect x="885" y="460" width="1" height="44" fill="#089981"/>
<rect x="884" y="468" width="3" height="24" fill="#089981"/>
<rect x="889" y="463" width="1" height="83" fill="#f23645"/>
<rect x="888" y="468" width="3" height="77" fill="#f23645"/>
<rect x="892" y="480" width="1" height="129" fill="#f23645"/>
<rect x="891" y="543" width="3" height="8" fill="#f23645"/>
<rect x="895" y="442" width="1" height="109" fill="#089981"/>
<rect x="894" y="469" width="3" height="82" fill="#089981"/>
<rect x="898" y="459" width="1" height="17" fill="#089981"/>
<rect x="897" y="462" width="3" height="7" fill="#089981"/>
<rect x="901" y="462" width="1" height="30" fill="#f23645"/>
<rect x="900" y="462" width="3" height="22" fill="#f23645"/>
<rect x="904" y="467" width="1" height="31" fill="#089981"/>
<rect x="903" y="481" width="3" height="3" fill="#089981"/>
<rect x="907" y="452" width="1" height="36" fill="#089981"/>
<rect x="906" y="458" width="3" height="24" fill="#089981"/>
<rect x="911" y="447" width="1" height="53" fill="#f23645"/>
<rect x="910" y="458" width="3" height="40" fill="#f23645"/>
<rect x="914" y="480" width="1" height="30" fill="#f23645"/>
<rect x="913" y="497" width="3" height="12" fill="#f23645"/>
<rect x="917" y="503" width="1" height="21" fill="#f23645"/>
<rect x="916" y="508" width="3" height="3" fill="#f23645"/>
<rect x="920" y="446" width="1" height="65" fill="#089981"/>
<rect x="919" y="451" width="3" height="60" fill="#089981"/>
<rect x="923" y="412" width="1" height="58" fill="#089981"/>
<rect x="922" y="437" width="3" height="15" fill="#089981"/>
<rect x="926" y="381" width="1" height="87" fill="#089981"/>
<rect x="925" y="391" width="3" height="47" fill="#089981"/>
<rect x="930" y="384" width="1" height="63" fill="#f23645"/>
<rect x="929" y="391" width="3" height="28" fill="#f23645"/>
<rect x="933" y="392" width="1" height="55" fill="#089981"/>
<rect x="932" y="401" width="3" height="18" fill="#089981"/>
<rect x="936" y="370" width="1" height="92" fill="#f23645"/>
<rect x="935" y="401" width="3" height="58" fill="#f23645"/>
<rect x="939" y="439" width="1" height="43" fill="#f23645"/>
<rect x="938" y="458" width="3" height="20" fill="#f23645"/>
<rect x="942" y="453" width="1" height="41" fill="#089981"/>
<rect x="941" y="468" width="3" height="10" fill="#089981"/>
<rect x="945" y="421" width="1" height="48" fill="#089981"/>
<rect x="944" y="433" width="3" height="36" fill="#089981"/>
<rect x="949" y="416" width="1" height="99" fill="#f23645"/>
<rect x="948" y="433" width="3" height="38" fill="#f23645"/>
<rect x="952" y="443" width="1" height="70" fill="#f23645"/>
<rect x="951" y="471" width="3" height="11" fill="#f23645"/>
<rect x="955" y="438" width="1" height="53" fill="#089981"/>
<rect x="954" y="450" width="3" height="32" fill="#089981"/>
<rect x="958" y="440" width="1" height="23" fill="#089981"/>
<rect x="957" y="449" width="3" height="1" fill="#089981"/>
<rect x="961" y="441" width="1" height="30" fill="#089981"/>
<rect x="960" y="449" width="3" height="1" fill="#089981"/>
<rect x="964" y="440" width="1" height="88" fill="#f23645"/>
<rect x="963" y="449" width="3" height="36" fill="#f23645"/>
<rect x="968" y="447" width="1" height="123" fill="#089981"/>
<rect x="967" y="454" width="3" height="31" fill="#089981"/>
<rect x="971" y="437" width="1" height="23" fill="#089981"/>
<rect x="970" y="450" width="3" height="4" fill="#089981"/>
<rect x="974" y="406" width="1" height="49" fill="#089981"/>
<rect x="973" y="435" width="3" height="16" fill="#089981"/>
<rect x="977" y="423" width="1" height="31" fill="#f23645"/>
<rect x="976" y="435" width="3" height="12" fill="#f23645"/>
<rect x="980" y="420" width="1" height="27" fill="#089981"/>
<rect x="979" y="427" width="3" height="20" fill="#089981"/>
<rect x="983" y="405" width="1" height="25" fill="#089981"/>
<rect x="982" y="409" width="3" height="18" fill="#089981"/>
<rect x="987" y="407" width="1" height="12" fill="#f23645"/>
<rect x="986" y="408" width="3" height="4" fill="#f23645"/>
<rect x="990" y="407" width="1" height="18" fill="#f23645"/>
<rect x="989" y="411" width="3" height="10" fill="#f23645"/>
<rect x="993" y="407" width="1" height="40" fill="#f23645"/>
<rect x="992" y="421" width="3" height="23" fill="#f23645"/>
<rect x="996" y="428" width="1" height="57" fill="#089981"/>
<rect x="995" y="428" width="3" height="16" fill="#089981"/>
<rect x="999" y="422" width="1" height="55" fill="#f23645"/>
<rect x="998" y="428" width="3" height="49" fill="#f23645"/>
<rect x="1002" y="374" width="1" height="109" fill="#089981"/>
<rect x="1001" y="376" width="3" height="101" fill="#089981"/>
<rect x="1006" y="375" width="1" height="75" fill="#f23645"/>
<rect x="1005" y="376" width="3" height="69" fill="#f23645"/>
<rect x="1009" y="436" width="1" height="25" fill="#f23645"/>
<rect x="1008" y="444" width="3" height="8" fill="#f23645"/>
<rect x="1012" y="418" width="1" height="45" fill="#089981"/>
<rect x="1011" y="447" width="3" height="5" fill="#089981"/>
<rect x="1015" y="416" width="1" height="44" fill="#089981"/>
<rect x="1014" y="426" width="3" height="21" fill="#089981"/>
<rect x="1018" y="423" width="1" height="85" fill="#f23645"/>
<rect x="1017" y="426" width="3" height="45" fill="#f23645"/>
<rect x="1021" y="437" width="1" height="60" fill="#f23645"/>
<rect x="1020" y="471" width="3" height="5" fill="#f23645"/>
<rect x="1025" y="418" width="1" height="60" fill="#089981"/>
<rect x="1024" y="434" width="3" height="42" fill="#089981"/>
<rect x="1028" y="412" width="1" height="25" fill="#089981"/>
<rect x="1027" y="429" width="3" height="5" fill="#089981"/>
<rect x="1031" y="416" width="1" height="23" fill="#089981"/>
<rect x="1030" y="426" width="3" height="4" fill="#089981"/>
<rect x="1034" y="403" width="1" height="26" fill="#089981"/>
<rect x="1033" y="416" width="3" height="11" fill="#089981"/>
<rect x="1037" y="394" width="1" height="63" fill="#f23645"/>
<rect x="1036" y="416" width="3" height="41" fill="#f23645"/>
<rect x="1040" y="408" width="1" height="94" fill="#089981"/>
<rect x="1039" y="455" width="3" height="1" fill="#089981"/>
<rect x="1044" y="398" width="1" height="65" fill="#089981"/>
<rect x="1043" y="411" width="3" height="45" fill="#089981"/>
<rect x="1047" y="398" width="1" height="21" fill="#089981"/>
<rect x="1046" y="404" width="3" height="8" fill="#089981"/>
<rect x="1050" y="392" width="1" height="20" fill="#f23645"/>
<rect x="1049" y="404" width="3" height="2" fill="#f23645"/>
<rect x="1053" y="395" width="1" height="37" fill="#f23645"/>
<rect x="1052" y="405" width="3" height="23" fill="#f23645"/>
<rect x="1056" y="417" width="1" height="22" fill="#089981"/>
<rect x="1055" y="418" width="3" height="10" fill="#089981"/>
<rect x="1059" y="410" width="1" height="24" fill="#089981"/>
<rect x="1058" y="417" width="3" height="2" fill="#089981"/>
<rect x="1062" y="414" width="1" height="16" fill="#089981"/>
<rect x="1061" y="417" width="3" height="2" fill="#089981"/>
<rect x="1066" y="401" width="1" height="16" fill="#089981"/>
<rect x="1065" y="408" width="3" height="9" fill="#089981"/>
<rect x="1069" y="401" width="1" height="46" fill="#f23645"/>
<rect x="1068" y="408" width="3" height="30" fill="#f23645"/>
<rect x="1072" y="411" width="1" height="70" fill="#f23645"/>
<rect x="1071" y="437" width="3" height="4" fill="#f23645"/>
<rect x="1075" y="407" width="1" height="46" fill="#089981"/>
<rect x="1074" y="439" width="3" height="2" fill="#089981"/>
<rect x="1078" y="412" width="1" height="35" fill="#089981"/>
<rect x="1077" y="437" width="3" height="3" fill="#089981"/>
<rect x="1081" y="406" width="1" height="49" fill="#f23645"/>
<rect x="1080" y="437" width="3" height="13" fill="#f23645"/>
<rect x="1085" y="412" width="1" height="69" fill="#f23645"/>
<rect x="1084" y="450" width="3" height="23" fill="#f23645"/>
<rect x="1088" y="442" width="1" height="31" fill="#089981"/>
<rect x="1087" y="451" width="3" height="22" fill="#089981"/>
<rect x="1091" y="424" width="1" height="37" fill="#089981"/>
<rect x="1090" y="426" width="3" height="25" fill="#089981"/>
<rect x="1094" y="368" width="1" height="61" fill="#089981"/>
<rect x="1093" y="393" width="3" height="34" fill="#089981"/>
<rect x="1097" y="381" width="1" height="59" fill="#f23645"/>
<rect x="1096" y="393" width="3" height="37" fill="#f23645"/>
<rect x="1100" y="402" width="1" height="60" fill="#089981"/>
<rect x="1099" y="429" width="3" height="1" fill="#089981"/>
<rect x="1104" y="413" width="1" height="24" fill="#089981"/>
<rect x="1103" y="424" width="3" height="5" fill="#089981"/>
<rect x="1107" y="411" width="1" height="24" fill="#089981"/>
<rect x="1106" y="418" width="3" height="6" fill="#089981"/>
<rect x="1110" y="400" width="1" height="22" fill="#089981"/>
<rect x="1109" y="409" width="3" height="10" fill="#089981"/>
<rect x="1113" y="406" width="1" height="89" fill="#f23645"/>
<rect x="1112" y="408" width="3" height="87" fill="#f23645"/>
<rect x="1116" y="419" width="1" height="89" fill="#f23645"/>
<rect x="1115" y="494" width="3" height="2" fill="#f23645"/>
<rect x="1119" y="404" width="1" height="92" fill="#089981"/>
<rect x="1118" y="418" width="3" height="78" fill="#089981"/>
<rect x="1123" y="403" width="1" height="16" fill="#089981"/>
<rect x="1122" y="407" width="3" height="12" fill="#089981"/>
<rect x="1126" y="400" width="1" height="25" fill="#f23645"/>
<rect x="1125" y="407" width="3" height="18" fill="#f23645"/>
<rect x="1129" y="417" width="1" height="23" fill="#f23645"/>
<rect x="1128" y="424" width="3" height="8" fill="#f23645"/>
<rect x="1132" y="421" width="1" height="29" fill="#f23645"/>
<rect x="1131" y="431" width="3" height="18" fill="#f23645"/>
<rect x="1135" y="417" width="1" height="33" fill="#089981"/>
<rect x="1134" y="419" width="3" height="30" fill="#089981"/>
<rect x="1138" y="407" width="1" height="19" fill="#089981"/>
<rect x="1137" y="419" width="3" height="1" fill="#089981"/>
</g>
<line x1="-5" y1="17.8" x2="1249.4" y2="426.4" stroke="#2962ff" stroke-width="3" stroke-linecap="round"/>
<g stroke="#000" stroke-width="2.1" fill="none" stroke-linecap="round" stroke-linejoin="round">
<path d="M793.9 371.2 L793.9 410.5 M783.2 399.3 L793.9 410.5 L804.6 399.3"/>
<path d="M1081.3 318.6 L1094.2 367.6 M1081.5 360.2 L1094.2 367.6 L1101.5 354.9"/>
</g>
<rect x="523.9" y="152.5" width="263.9" height="17" fill="#fff"/>
<text x="527.9" y="165.0" font-size="14" font-weight="bold" fill="#000" textLength="255.4" lengthAdjust="spacingAndGlyphs">The medium term bias remains bearish</text>
<rect x="656.5" y="345.5" width="267.0" height="17" fill="#fff"/>
<text x="660.5" y="358.0" font-size="14" font-weight="bold" fill="#000" textLength="258.5" lengthAdjust="spacingAndGlyphs">Bespoke resistance is located at 0.9350</text>
<rect x="956.5" y="292.1" width="298.0" height="17" fill="#fff"/>
<text x="960.5" y="304.6" font-size="14" font-weight="bold" fill="#000" textLength="289.5" lengthAdjust="spacingAndGlyphs">Rallies should be capped by yesterday&#39;s high</text>
<rect x="415.0" y="636.5" width="254.5" height="17" fill="#fff"/>
<text x="419.0" y="649.0" font-size="14" font-weight="bold" fill="#000" textLength="246.0" lengthAdjust="spacingAndGlyphs">Price action looks to be forming a top</text>
<rect x="1209.0" y="455.5" width="243.0" height="17" fill="#fff"/>
<text x="1213.0" y="468.0" font-size="14" font-weight="bold" fill="#000" textLength="234.5" lengthAdjust="spacingAndGlyphs">Preferred trade is to sell into rallies</text>
<rect x="1247.5" y="566.8" width="60.5" height="17" fill="#fff"/>
<text x="1251.5" y="579.3" font-size="14" font-weight="bold" fill="#000" textLength="52.0" lengthAdjust="spacingAndGlyphs">Target 1</text>
<rect x="1245.0" y="642.9" width="60.5" height="17" fill="#fff"/>
<text x="1249.0" y="655.4" font-size="14" font-weight="bold" fill="#000" textLength="52.0" lengthAdjust="spacingAndGlyphs">Target 2</text>
<rect x="1460" y="1" width="54.5" height="818" fill="#fff"/>
<rect x="0" y="764" width="1514" height="1" fill="#e0e3eb" shape-rendering="crispEdges"/>
<g font-size="11" fill="#131722">
<text x="1469" y="53.4" textLength="38.8" lengthAdjust="spacingAndGlyphs">0.94000</text>
<text x="1469" y="90.4" textLength="38.8" lengthAdjust="spacingAndGlyphs">0.93950</text>
<text x="1469" y="126.4" textLength="38.8" lengthAdjust="spacingAndGlyphs">0.93900</text>
<text x="1469" y="162.4" textLength="38.8" lengthAdjust="spacingAndGlyphs">0.93850</text>
<text x="1469" y="198.4" textLength="38.8" lengthAdjust="spacingAndGlyphs">0.93800</text>
<text x="1469" y="235.4" textLength="38.8" lengthAdjust="spacingAndGlyphs">0.93750</text>
<text x="1469" y="271.4" textLength="38.8" lengthAdjust="spacingAndGlyphs">0.93700</text>
<text x="1469" y="307.4" textLength="38.8" lengthAdjust="spacingAndGlyphs">0.93650</text>
<text x="1469" y="343.4" textLength="38.8" lengthAdjust="spacingAndGlyphs">0.93600</text>
<text x="1469" y="380.4" textLength="38.8" lengthAdjust="spacingAndGlyphs">0.93550</text>
<text x="1469" y="416.4" textLength="38.8" lengthAdjust="spacingAndGlyphs">0.93500</text>
<text x="1469" y="452.4" textLength="38.8" lengthAdjust="spacingAndGlyphs">0.93450</text>
<text x="1469" y="488.4" textLength="38.8" lengthAdjust="spacingAndGlyphs">0.93400</text>
<text x="1469" y="525.4" textLength="38.8" lengthAdjust="spacingAndGlyphs">0.93350</text>
<text x="1469" y="561.4" textLength="38.8" lengthAdjust="spacingAndGlyphs">0.93300</text>
<text x="1469" y="597.4" textLength="38.8" lengthAdjust="spacingAndGlyphs">0.93250</text>
<text x="1469" y="633.4" textLength="38.8" lengthAdjust="spacingAndGlyphs">0.93200</text>
<text x="1469" y="670.4" textLength="38.8" lengthAdjust="spacingAndGlyphs">0.93150</text>
<text x="1469" y="706.4" textLength="38.8" lengthAdjust="spacingAndGlyphs">0.93100</text>
<text x="1469" y="742.4" textLength="38.8" lengthAdjust="spacingAndGlyphs">0.93050</text>
<text x="1469" y="783.4" textLength="38.8" lengthAdjust="spacingAndGlyphs">0.00000</text>
</g>
<path d="M1461 368.5 H1510 a2 2 0 0 1 2 2 V382.7 a2 2 0 0 1 -2 2 H1461 Z" fill="#ff0000"/>
<text x="1469.3" y="381.0" font-size="11" font-weight="bold" fill="#fff" textLength="38.4" lengthAdjust="spacingAndGlyphs">0.93550</text>
<path d="M1461 419.9 H1510 a2 2 0 0 1 2 2 V434.1 a2 2 0 0 1 -2 2 H1461 Z" fill="#555555"/>
<text x="1469.3" y="432.0" font-size="11" font-weight="bold" fill="#fff" textLength="38.4" lengthAdjust="spacingAndGlyphs">0.93500</text>
<path d="M1461 403.9 H1510 a2 2 0 0 1 2 2 V418.1 a2 2 0 0 1 -2 2 H1461 Z" fill="#000000"/>
<text x="1469.3" y="417.0" font-size="11" font-weight="bold" fill="#fff" textLength="38.4" lengthAdjust="spacingAndGlyphs">0.93500</text>
<path d="M1461 565.0 H1510 a2 2 0 0 1 2 2 V579.2 a2 2 0 0 1 -2 2 H1461 Z" fill="#000000"/>
<text x="1469.3" y="577.1" font-size="11" font-weight="bold" fill="#fff" textLength="38.4" lengthAdjust="spacingAndGlyphs">0.93300</text>
<path d="M1461 549.0 H1510 a2 2 0 0 1 2 2 V563.2 a2 2 0 0 1 -2 2 H1461 Z" fill="#00a000"/>
<text x="1469.3" y="561.7" font-size="11" font-weight="bold" fill="#fff" textLength="38.4" lengthAdjust="spacingAndGlyphs">0.93300</text>
<path d="M1461 621.3 H1510 a2 2 0 0 1 2 2 V635.5 a2 2 0 0 1 -2 2 H1461 Z" fill="#000000"/>
<text x="1469.3" y="633.4" font-size="11" font-weight="bold" fill="#fff" textLength="38.4" lengthAdjust="spacingAndGlyphs">0.93200</text>
<rect x="1464.9" y="3.5" width="46.5" height="24.9" rx="4" fill="#fff" stroke="#ececee"/>
<text x="1468.1" y="20.1" font-size="12" fill="#131722" textLength="20.5" lengthAdjust="spacingAndGlyphs">CHF</text>
<path d="M1502.1 15 L1504.55 17.4 L1507 15" fill="none" stroke="#131722" stroke-width="1.3"/>
<g font-size="11" fill="#131722" text-anchor="middle">
<text x="69.5" y="810">4</text>
<text x="145.5" y="810">5</text>
<text x="215.5" y="810">7</text>
<text x="294.5" y="810">9</text>
<text x="370.5" y="810" textLength="11.7" lengthAdjust="spacingAndGlyphs">10</text>
<text x="446.5" y="810" textLength="11.7" lengthAdjust="spacingAndGlyphs">11</text>
<text x="522.5" y="810" textLength="11.7" lengthAdjust="spacingAndGlyphs">12</text>
<text x="591.5" y="810" textLength="11.7" lengthAdjust="spacingAndGlyphs">14</text>
<text x="670.5" y="810" textLength="11.7" lengthAdjust="spacingAndGlyphs">16</text>
<text x="746.5" y="810" textLength="11.7" lengthAdjust="spacingAndGlyphs">17</text>
<text x="822.5" y="810" textLength="11.7" lengthAdjust="spacingAndGlyphs">18</text>
<text x="898.5" y="810" textLength="11.7" lengthAdjust="spacingAndGlyphs">19</text>
<text x="968.5" y="810" textLength="11.7" lengthAdjust="spacingAndGlyphs">21</text>
<text x="1047.5" y="810" textLength="11.7" lengthAdjust="spacingAndGlyphs">23</text>
<text x="1123.5" y="810" textLength="11.7" lengthAdjust="spacingAndGlyphs">24</text>
<text x="1198.5" y="810" textLength="11.7" lengthAdjust="spacingAndGlyphs">25</text>
<text x="1274.5" y="810" textLength="11.7" lengthAdjust="spacingAndGlyphs">26</text>
<text x="1344.5" y="810" textLength="11.7" lengthAdjust="spacingAndGlyphs">28</text>
<text x="1426.5" y="810" textLength="11.7" lengthAdjust="spacingAndGlyphs">30</text>
</g>
<g fill="none" stroke="#131722" stroke-width="1.1"><path d="M1481.8 807.5 L1485.3 801.4 L1492.3 801.4 L1495.8 807.5 L1492.3 813.6 L1485.3 813.6 Z"/><circle cx="1488.8" cy="807.5" r="1.9"/></g>
<g fill="#fff" stroke="#fff" stroke-width="2.4" stroke-linejoin="round"><path d="M10 765 H21.9 V778.8 H16.1 V769.8 H10 Z"/><circle cx="27" cy="767.3" r="2.9"/><path d="M33.1 765 H39.4 L33.8 778.8 H27 Z"/></g>
<g fill="#111"><path d="M10 765 H21.9 V778.8 H16.1 V769.8 H10 Z"/><circle cx="27" cy="767.3" r="2.9"/><path d="M33.1 765 H39.4 L33.8 778.8 H27 Z"/></g>
<circle cx="19.3" cy="11.7" r="5.8" fill="#e8373e"/>
<path d="M18.6 6.9 h2.2 v3.2 h3.2 v2.2 h-3.2 v3.2 h-2.2 v-3.2 h-3.2 v-2.2 h3.2 z" fill="#fff"/>
<circle cx="12.9" cy="17.9" r="6.9" fill="#fff"/><circle cx="12.9" cy="17.9" r="6" fill="#1b5ec4"/>
<circle cx="16.50" cy="17.90" r="0.65" fill="#f5d63d"/>
<circle cx="16.02" cy="19.70" r="0.65" fill="#f5d63d"/>
<circle cx="14.70" cy="21.02" r="0.65" fill="#f5d63d"/>
<circle cx="12.90" cy="21.50" r="0.65" fill="#f5d63d"/>
<circle cx="11.10" cy="21.02" r="0.65" fill="#f5d63d"/>
<circle cx="9.78" cy="19.70" r="0.65" fill="#f5d63d"/>
<circle cx="9.30" cy="17.90" r="0.65" fill="#f5d63d"/>
<circle cx="9.78" cy="16.10" r="0.65" fill="#f5d63d"/>
<circle cx="11.10" cy="14.78" r="0.65" fill="#f5d63d"/>
<circle cx="12.90" cy="14.30" r="0.65" fill="#f5d63d"/>
<circle cx="14.70" cy="14.78" r="0.65" fill="#f5d63d"/>
<circle cx="16.02" cy="16.10" r="0.65" fill="#f5d63d"/>
<text x="29.2" y="20.7" font-size="14.8" fill="#131722" textLength="135.8" lengthAdjust="spacingAndGlyphs">EURCHF · 1h · FXCM</text>
<path d="M177.1 9 H189 L184.6 14.9 L189 20.7 H177.1 Z" fill="#f7525f"/>
<circle cx="210" cy="14.8" r="9" fill="#2962ff"/>
<path d="M209.3 10.9 L204.6 14.8 L209.3 18.7 Z M214.7 10.9 L210 14.8 L214.7 18.7 Z" fill="#fff"/>
<text x="227.0" y="19.6" font-size="12" fill="#131722" textLength="8.2" lengthAdjust="spacingAndGlyphs">O</text>
<text x="236.7" y="19.6" font-size="12" fill="#089981" textLength="46.0" lengthAdjust="spacingAndGlyphs">0.93490</text>
<text x="289.3" y="19.6" font-size="12" fill="#131722" textLength="7.0" lengthAdjust="spacingAndGlyphs">H</text>
<text x="297.5" y="19.6" font-size="12" fill="#089981" textLength="45.9" lengthAdjust="spacingAndGlyphs">0.93507</text>
<text x="350.4" y="19.6" font-size="12" fill="#131722" textLength="5.5" lengthAdjust="spacingAndGlyphs">L</text>
<text x="356.9" y="19.6" font-size="12" fill="#089981" textLength="46.1" lengthAdjust="spacingAndGlyphs">0.93480</text>
<text x="409.3" y="19.6" font-size="12" fill="#131722" textLength="7.5" lengthAdjust="spacingAndGlyphs">C</text>
<text x="417.8" y="19.6" font-size="12" fill="#089981" textLength="45.7" lengthAdjust="spacingAndGlyphs">0.93490</text>
<text x="469.5" y="19.6" font-size="12" fill="#089981" textLength="91.6" lengthAdjust="spacingAndGlyphs">0.00000 (0.00%)</text>
<rect x="6" y="31" width="67" height="34" rx="4" fill="#f23645"/>
<text x="39.5" y="44.8" font-size="12.6" font-weight="bold" fill="#fff" text-anchor="middle" letter-spacing="0.35">0.9338<tspan font-size="9" dy="-3.4">0</tspan></text>
<text x="27.7" y="58.8" font-size="10.7" font-weight="bold" fill="#fff" textLength="23.9" lengthAdjust="spacingAndGlyphs">SELL</text>
<rect x="125" y="31" width="67" height="34" rx="4" fill="#2962ff"/>
<text x="158.5" y="44.8" font-size="12.6" font-weight="bold" fill="#fff" text-anchor="middle" letter-spacing="0.35">0.9338<tspan font-size="9" dy="-3.4">0</tspan></text>
<text x="147.7" y="58.8" font-size="10.7" font-weight="bold" fill="#fff" textLength="20.4" lengthAdjust="spacingAndGlyphs">BUY</text>
<text x="81.6" y="50.9" font-size="9.6" fill="#131722" textLength="34.6" lengthAdjust="spacingAndGlyphs">0.00000</text>
<rect x="6.5" y="72.5" width="31" height="20" rx="3" fill="#fff" stroke="#e0e3eb"/>
<path d="M12.6 81 L16.2 84.4 L19.8 81" fill="none" stroke="#131722" stroke-width="1.3"/>
<text x="26.6" y="87.2" font-size="12" fill="#131722">4</text>
<rect x="1516.2" y="3" width="1.8" height="819" fill="#f5f5f5"/>
<rect x="-3" y="-0.1" width="1518" height="820" rx="3" fill="none" stroke="#1a1a1a" stroke-width="2"/>
</svg></body></html>
